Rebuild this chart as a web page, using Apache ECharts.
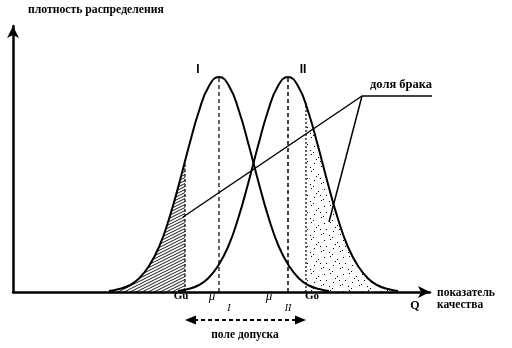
<!DOCTYPE html>
<html><head><meta charset="utf-8">
<script src="https://cdn.jsdelivr.net/npm/echarts@6/dist/echarts.min.js"></script>
<style>html,body{margin:0;padding:0;background:#fff}#c{width:512px;height:348px}</style>
</head><body><div id="c"></div>
<script>
// x in units of "показатель качества", y in density units
const curveI = [[9.6,0.1],[10.6,0.3],[11.6,0.65],[12.6,1.35],[13.6,2.6],[14.6,4.5],[15.6,7.3],[16.6,10.8],[17.6,14.6],[18.6,18.1],[19.6,20.6],[20.6,21.5],[21.6,20.6],[22.6,18.1],[23.6,14.6],[24.6,10.8],[25.6,7.3],[26.6,4.5],[27.6,2.6],[28.6,1.35],[29.6,0.65],[30.6,0.3],[31.6,0.1]];
const curveII = [[16.5,0.1],[17.5,0.3],[18.5,0.65],[19.5,1.35],[20.5,2.6],[21.5,4.5],[22.5,7.3],[23.5,10.8],[24.5,14.6],[25.5,18.1],[26.5,20.6],[27.5,21.5],[28.5,20.6],[29.5,18.1],[30.5,14.6],[31.5,10.8],[32.5,7.3],[33.5,4.5],[34.5,2.6],[35.5,1.35],[36.5,0.65],[37.5,0.3],[38.5,0.1]];
const rejectLow = [[9.6,0.1],[10.6,0.3],[11.6,0.65],[12.6,1.35],[13.6,2.6],[14.6,4.5],[15.6,7.3],[16.6,10.8],[17.2,12.8]];
const rejectHigh = [[29.3,18.6],[30.5,14.6],[31.5,10.8],[32.5,7.3],[33.5,4.5],[34.5,2.6],[35.5,1.35],[36.5,0.65],[37.5,0.3],[38.5,0.1]];
const Gu = 17.2, Go = 29.3, muI = 20.6, muII = 27.5;
const peakI = 21.5, peakII = 21.5, atGu = 12.8, atGo = 18.6;
const leader1 = [[17.0,7.5],[34.9,19.6],[43.0,19.6]];
const leader2 = [[34.9,19.6],[31.6,7.0]];
const tolerance = [[Gu, Go, -2.8]];

function hatchPattern(){
  const c=document.createElement('canvas'); c.width=6; c.height=3;
  const g=c.getContext('2d'); g.strokeStyle='#000'; g.lineWidth=0.9;
  g.beginPath(); g.moveTo(-6,3); g.lineTo(6,-3); g.moveTo(0,3); g.lineTo(6,0); g.moveTo(0,6); g.lineTo(12,0); g.stroke();
  return c;
}
function dotPattern(){
  const c=document.createElement('canvas'); c.width=19; c.height=17;
  const g=c.getContext('2d'); g.fillStyle='#000';
  const pts=[[1,2],[7,1],[14,4],[3,8],[10,10],[17,13],[6,14],[12,6],[0,12],[16,8],[9,16]];
  pts.forEach(p=>g.fillRect(p[0],p[1],1,1));
  return c;
}
const chart = echarts.init(document.getElementById('c'), null, {renderer:'canvas'});
const black='#000';
function vline(x,top,dash,w){return {type:'line',data:[[x,0],[x,top]],symbol:'none',silent:true,lineStyle:{color:black,width:w||1.2,type:dash},z:3};}
chart.setOption({
  animation:false,
  grid:{left:13,right:82,top:26,bottom:56},
  xAxis:{type:'value',min:0,max:41.7,axisLine:{show:true,onZero:false,lineStyle:{color:black,width:2.5},symbol:['none','arrow'],symbolSize:[9,12]},axisTick:{show:false},axisLabel:{show:false},splitLine:{show:false}},
  yAxis:{type:'value',min:0,max:26.6,axisLine:{show:true,onZero:false,lineStyle:{color:black,width:2.5},symbol:['none','arrow'],symbolSize:[9,12]},axisTick:{show:false},axisLabel:{show:false},splitLine:{show:false}},
  series:[
    {type:'line',data:rejectLow,smooth:true,symbol:'none',lineStyle:{width:0},areaStyle:{color:{image:hatchPattern(),repeat:'repeat'},opacity:1},z:1},
    {type:'line',data:rejectHigh,smooth:true,symbol:'none',lineStyle:{width:0},areaStyle:{color:{image:dotPattern(),repeat:'repeat'},opacity:1},z:1},
    {type:'line',data:curveI,smooth:true,symbol:'none',lineStyle:{color:black,width:2},z:4},
    {type:'line',data:curveII,smooth:true,symbol:'none',lineStyle:{color:black,width:2},z:4},
    vline(Gu,atGu,[3,2]),
    vline(muI,peakI,[4,3]),
    vline(muII,peakII,[4,3],1.5),
    vline(Go,atGo,[2,2]),
    {type:'line',data:leader1,symbol:'none',clip:false,lineStyle:{color:black,width:1.5},z:5},
    {type:'line',data:leader2,symbol:'none',clip:false,lineStyle:{color:black,width:1.5},z:5},
    {type:'custom',data:tolerance,clip:false,silent:true,z:5,renderItem:function(params,api){
      const a=api.coord([api.value(0),api.value(2)]), b=api.coord([api.value(1),api.value(2)]);
      return {type:'group',children:[
        {type:'line',shape:{x1:a[0]+9,y1:a[1],x2:b[0]-9,y2:b[1]},style:{stroke:black,lineWidth:2,lineDash:[4,3]}},
        {type:'polygon',shape:{points:[[a[0],a[1]],[a[0]+11,a[1]-4.5],[a[0]+11,a[1]+4.5]]},style:{fill:black}},
        {type:'polygon',shape:{points:[[b[0],b[1]],[b[0]-11,b[1]-4.5],[b[0]-11,b[1]+4.5]]},style:{fill:black}}
      ]};
    }}
  ]
});
const labels = [
  {t:'плотность распределения',x:1.5,y:28.2,a:'left',f:'bold 11.7px "Liberation Serif"'},
  {t:'I',x:18.5,y:22.2,a:'center',f:'bold 12px "Liberation Sans"'},
  {t:'II',x:29.0,y:22.2,a:'center',f:'bold 12px "Liberation Sans"'},
  {t:'доля брака',x:35.7,y:20.7,a:'left',f:'bold 12.5px "Liberation Serif"'},
  {t:'показатель',x:42.4,y:-0.1,a:'left',f:'bold 11.5px "Liberation Serif"'},
  {t:'качества',x:42.4,y:-1.3,a:'left',f:'bold 11.5px "Liberation Serif"'},
  {t:'Q',x:40.2,y:-1.4,a:'center',f:'bold 12px "Liberation Serif"'},
  {t:'Gu',x:16.8,y:-0.45,a:'center',f:'bold 11px "Liberation Serif"'},
  {t:'μ',x:19.9,y:-0.5,a:'center',f:'italic 13px "Liberation Serif"'},
  {t:'I',x:21.6,y:-1.6,a:'center',f:'italic 10px "Liberation Serif"'},
  {t:'μ',x:25.6,y:-0.5,a:'center',f:'italic 13px "Liberation Serif"'},
  {t:'II',x:27.5,y:-1.6,a:'center',f:'italic 10px "Liberation Serif"'},
  {t:'Go',x:29.9,y:-0.45,a:'center',f:'bold 11px "Liberation Serif"'},
  {t:'поле допуска',x:23.2,y:-4.3,a:'center',f:'bold 11.5px "Liberation Serif"'}
];
chart.setOption({graphic:labels.map(l=>{const p=chart.convertToPixel({gridIndex:0},[l.x,l.y]);
  return {type:'text',x:p[0],y:p[1],style:{text:l.t,font:l.f,fill:black,align:l.a,verticalAlign:'middle'},z:10};})});
</script></body></html>
